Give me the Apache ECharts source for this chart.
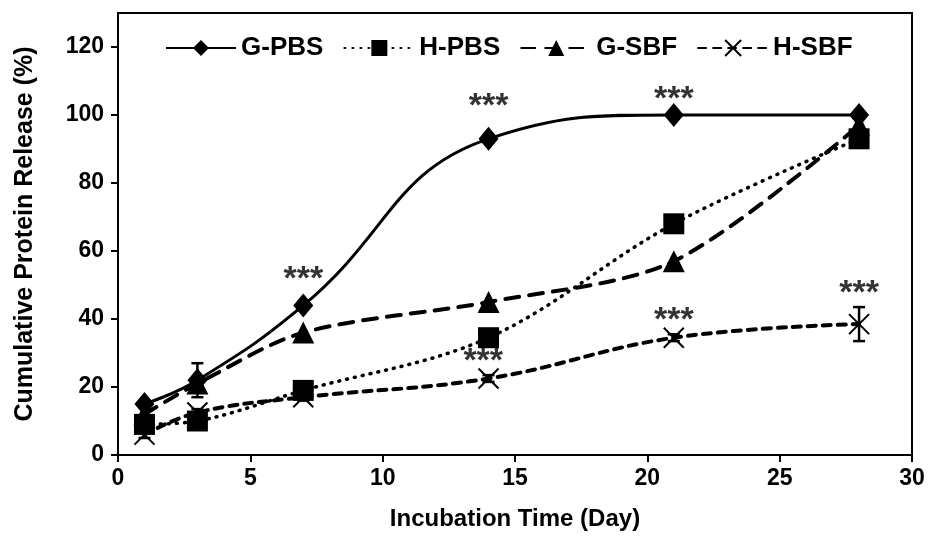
<!DOCTYPE html>
<html><head><meta charset="utf-8">
<script src="https://cdn.jsdelivr.net/npm/echarts@6/dist/echarts.min.js"></script>
<style>html,body{margin:0;padding:0;background:#fff}#c{width:937px;height:541px}</style>
</head><body><div id="c"></div>
<script>
const days = [1, 3, 7, 14, 21, 28];
const gPBS = [15, 22, 44, 93, 100, 100];
const hPBS = [9, 10, 19, 34.5, 68, 93];
const gSBF = [12, 21, 36, 45, 57, 97];
const hSBF = [6, 12.5, 17, 22.5, 34.5, 38.5];
const gPBSerr = [1, 5, 1, 1, 0.5, 0.5];
const hSBFerr = [1, 1, 1, 1, 1, 5];
const xTicks = [0, 5, 10, 15, 20, 25, 30];
const yTicks = [0, 20, 40, 60, 80, 100, 120];
const starX = [7, 14, 21, 13.8, 21, 28];
const starY = [51.5, 102.5, 104.5, 27.5, 39.5, 47.5];

const F = 'Liberation Sans, Arial, sans-serif';
const pts = (ys) => days.map((d, i) => [d, ys[i]]);
const xPath = 'path://M0,0L10,10M10,0L0,10';
const T = { fontFamily: F, fontWeight: 'bold', color: '#000' };

function errSeries(ys, errs) {
  return {
    type: 'custom', silent: true, z: 5,
    data: days.map((d, i) => [d, ys[i] - errs[i], ys[i] + errs[i]]),
    renderItem: function (params, api) {
      const lo = api.coord([api.value(0), api.value(1)]);
      const hi = api.coord([api.value(0), api.value(2)]);
      const w = 6;
      const st = { stroke: '#000', lineWidth: 2.5 };
      return { type: 'group', children: [
        { type: 'line', shape: { x1: lo[0], y1: lo[1], x2: hi[0], y2: hi[1] }, style: st },
        { type: 'line', shape: { x1: lo[0]-w, y1: lo[1], x2: lo[0]+w, y2: lo[1] }, style: st },
        { type: 'line', shape: { x1: hi[0]-w, y1: hi[1], x2: hi[0]+w, y2: hi[1] }, style: st }
      ]};
    }
  };
}

const chart = echarts.init(document.getElementById('c'), null, { renderer: 'canvas' });
chart.setOption({
  backgroundColor: '#fff',
  animation: false,
  textStyle: { fontFamily: F },
  grid: { left: 118, right: 25, top: 13, bottom: 86, show: true, borderColor: '#000', borderWidth: 2 },
  legend: {
    top: 30, left: 160, itemWidth: 70, itemHeight: 20, itemGap: 20,
    textStyle: Object.assign({ fontSize: 26 }, T),
    data: ['G-PBS', 'H-PBS', 'G-SBF', 'H-SBF']
  },
  xAxis: {
    type: 'value', min: xTicks[0], max: xTicks[xTicks.length - 1], interval: 5,
    name: 'Incubation Time (Day)', nameLocation: 'middle', nameGap: 52,
    nameTextStyle: Object.assign({ fontSize: 24 }, T),
    axisLine: { lineStyle: { color: '#000', width: 2 } },
    axisTick: { inside: false, length: 7, lineStyle: { color: '#000', width: 2 } },
    axisLabel: Object.assign({ fontSize: 23, margin: 12 }, T),
    splitLine: { show: false }
  },
  yAxis: {
    type: 'value', min: yTicks[0], max: 130, interval: 20,
    name: 'Cumulative Protein Release (%)', nameLocation: 'middle', nameGap: 80,
    nameTextStyle: Object.assign({ fontSize: 25 }, T),
    axisLine: { show: true, lineStyle: { color: '#000', width: 2 } },
    axisTick: { show: true, inside: false, length: 7, lineStyle: { color: '#000', width: 2 } },
    axisLabel: Object.assign({ fontSize: 23, margin: 14, showMaxLabel: false,
      formatter: v => yTicks.indexOf(v) >= 0 ? String(v) : '' }, T),
    splitLine: { show: false }
  },
  series: [
    errSeries(gPBS, gPBSerr),
    errSeries(hSBF, hSBFerr),
    { name: 'G-PBS', type: 'line', data: pts(gPBS), smooth: 0.45,
      symbol: 'diamond', symbolSize: [20, 24], z: 4,
      lineStyle: { color: '#000', width: 3, type: 'solid' }, itemStyle: { color: '#000' } },
    { name: 'H-PBS', type: 'line', data: pts(hPBS), smooth: 0.35,
      symbol: 'rect', symbolSize: 21, z: 3,
      lineStyle: { color: '#000', width: 3.5, type: [1, 7], cap: 'round' }, itemStyle: { color: '#000' } },
    { name: 'G-SBF', type: 'line', data: pts(gSBF), smooth: 0.3,
      symbol: 'triangle', symbolSize: 22, z: 3,
      lineStyle: { color: '#000', width: 4, type: [14, 10], cap: 'round' }, itemStyle: { color: '#000' } },
    { name: 'H-SBF', type: 'line', data: pts(hSBF), smooth: 0.4,
      symbol: xPath, symbolSize: 20, z: 3,
      lineStyle: { color: '#000', width: 4, type: [8, 7], cap: 'round' },
      itemStyle: { color: 'none', borderColor: '#000', borderWidth: 2 } },
    { type: 'scatter', silent: true, symbolSize: 1, itemStyle: { color: 'rgba(0,0,0,0)' },
      data: starX.map((x, i) => [x, starY[i]]),
      label: Object.assign({ show: true, position: 'inside', formatter: '***', fontSize: 34 }, T) }
  ]
});
</script></body></html>
